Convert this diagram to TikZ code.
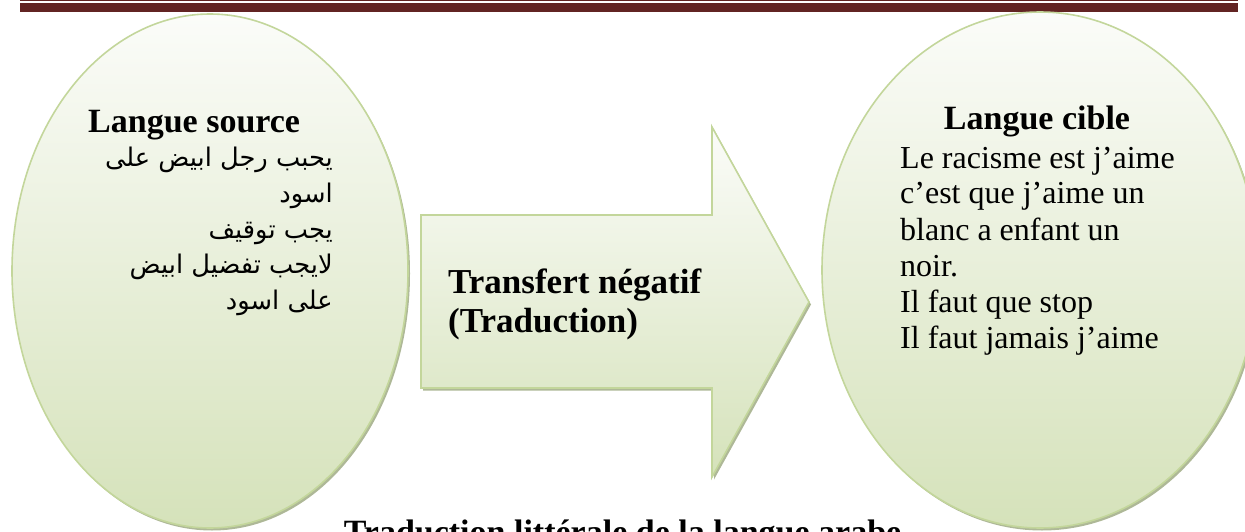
\documentclass[tikz,border=0pt]{standalone}
\usepackage{fontspec}
\setmainfont{Liberation Serif}
\newfontfamily\arabicfont[Script=Arabic]{DejaVu Sans}
\TeXXeTstate=1
\usetikzlibrary{shapes.geometric,shadows}
\definecolor{hdr}{RGB}{98,36,35}
\definecolor{edgegreen}{RGB}{195,214,155}
\definecolor{topgreen}{RGB}{251,252,249}
\definecolor{botgreen}{RGB}{213,226,186}
\definecolor{shadowgreen}{RGB}{165,176,140}
\begin{document}
\begin{tikzpicture}[x=1pt,y=-1pt,
  bubble/.style={ellipse, draw=edgegreen, line width=1.6pt, top color=topgreen, bottom color=botgreen, inner sep=0pt,
    drop shadow={shadow xshift=2pt, shadow yshift=-2.5pt, fill=shadowgreen, opacity=0.9}},
  boldtxt/.style={font=\fontsize{34}{38}\selectfont\bfseries, inner sep=0pt},
  midtxt/.style={font=\fontsize{35}{39}\selectfont\bfseries, inner sep=0pt},
  plaintxt/.style={font=\fontsize{32}{36}\selectfont, inner sep=0pt},
  artxt/.style={font=\arabicfont\fontsize{25.7}{30}\selectfont, inner sep=0pt}
]
\useasboundingbox (0,0) rectangle (1245,532);
\clip (0,0) rectangle (1245,532);
% header rules
\fill[hdr] (20,0) rectangle (1238,1.3);
\fill[hdr] (20,3) rectangle (1238,12);
% ellipses
\node[bubble, minimum width=396pt, minimum height=514pt] (src) at (210,271) {};
\node[bubble, minimum width=436pt, minimum height=516pt] (tgt) at (1040,270) {};
% arrow shape
\fill[shadowgreen, opacity=0.9, shift={(2,2.5)}] (421,215) -- (712,215) -- (712,127) -- (809,302) -- (712,477) -- (712,388) -- (421,388) -- cycle;
\path[top color=topgreen, bottom color=botgreen, draw=edgegreen, line width=1.6pt] (421,215) -- (712,215) -- (712,127) -- (809,302) -- (712,477) -- (712,388) -- (421,388) -- cycle;
% left text
\node[boldtxt, anchor=base west] (srcTitle) at (88,132) {Langue source};
\node[artxt, anchor=base east] (a1) at (333,167) {\beginR يحبب رجل ابيض على\endR};
\node[artxt, anchor=base east] (a2) at (333,202.5) {\beginR اسود\endR};
\node[artxt, anchor=base east] (a3) at (333,238) {\beginR يجب توقيف\endR};
\node[artxt, anchor=base east] (a4) at (333,273.5) {\beginR لايجب تفضيل ابيض\endR};
\node[artxt, anchor=base east] (a5) at (333,309) {\beginR على اسود\endR};
% middle text
\node[midtxt, anchor=base west] (t1) at (448,293) {Transfert négatif};
\node[midtxt, anchor=base west] (t2) at (448,332.5) {(Traduction)};
% right text
\node[boldtxt, anchor=base] (tgtTitle) at (1037,130) {Langue cible};
\node[plaintxt, anchor=base west] (c1) at (900,168) {Le racisme est j’aime};
\node[plaintxt, anchor=base west] (c2) at (900,204) {c’est que j’aime un};
\node[plaintxt, anchor=base west] (c3) at (900,240) {blanc a enfant un};
\node[plaintxt, anchor=base west] (c4) at (900,276) {noir.};
\node[plaintxt, anchor=base west] (c5) at (900,312) {Il faut que stop};
\node[plaintxt, anchor=base west] (c6) at (900,348) {Il faut jamais j’aime};
% caption
\node[boldtxt, anchor=base] (cap) at (622.5,543) {Traduction littérale de la langue arabe};
\end{tikzpicture}
\end{document}
